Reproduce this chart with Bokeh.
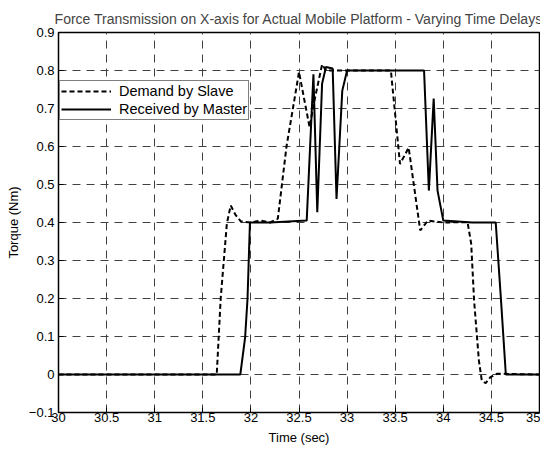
from bokeh.plotting import figure
from bokeh.models import Range1d, FixedTicker, Legend, LegendItem
from bokeh.embed import file_html
from bokeh.resources import INLINE

# ---- data ----
slave_t = [30.0, 31.645, 31.686, 31.75, 31.79, 31.84, 31.895, 32.0, 32.1, 32.2, 32.28,
           32.37, 32.45, 32.5, 32.55, 32.61, 32.66, 32.74, 32.78, 33.0, 33.2, 33.455,
           33.55, 33.64, 33.76, 33.84, 34.0, 34.252, 34.29, 34.32, 34.37, 34.40, 34.44,
           34.49, 34.56, 35.0]
slave_v = [0.0, 0.0, 0.2, 0.397, 0.445, 0.42, 0.403, 0.40, 0.405, 0.40, 0.41,
           0.6, 0.72, 0.796, 0.73, 0.651, 0.72, 0.816, 0.80, 0.80, 0.80, 0.80,
           0.554, 0.597, 0.379, 0.405, 0.40, 0.401, 0.344, 0.195, 0.037, -0.016, -0.023,
           -0.007, 0.002, 0.0]

master_t = [30.0, 31.89, 31.94, 31.965, 31.99, 32.2, 32.58, 32.65, 32.69, 32.74, 32.78,
            32.85, 32.89, 32.95, 33.0, 33.5, 33.80, 33.85, 33.90, 33.94, 34.0, 34.3,
            34.545, 34.60, 34.65, 35.0]
master_v = [0.0, 0.0, 0.098, 0.2, 0.4, 0.4, 0.405, 0.79, 0.427, 0.765, 0.809,
            0.805, 0.462, 0.747, 0.80, 0.80, 0.80, 0.484, 0.726, 0.484, 0.405, 0.40,
            0.40, 0.195, 0.0, 0.0]

x_ticks = [30, 30.5, 31, 31.5, 32, 32.5, 33, 33.5, 34, 34.5, 35]
y_ticks = [-0.1, 0, 0.1, 0.2, 0.3, 0.4, 0.5, 0.6, 0.7, 0.8, 0.9]

title_text = "Force Transmission on X-axis for Actual Mobile Platform - Varying Time Delays"
x_label = "Time (sec)"
y_label = "Torque (Nm)"
legend_labels = ["Demand by Slave", "Received by Master"]

FONT = "Liberation Sans"

p = figure(width=540, height=447, output_backend="svg", toolbar_location=None,
           x_range=Range1d(30, 35), y_range=Range1d(-0.1, 0.9),
           min_border_left=58, min_border_right=1, min_border_top=32, min_border_bottom=35)

p.title.text = title_text
p.title.align = "center"
p.title.text_font = FONT
p.title.text_font_style = "normal"
p.title.text_font_size = "14px"
p.title.offset = -4
p.title.standoff = 11

p.background_fill_color = "white"
p.border_fill_color = "white"
p.outline_line_color = "black"
p.outline_line_width = 1.5
p.outline_line_alpha = 1.0

for ax in p.xaxis:
    ax.ticker = FixedTicker(ticks=x_ticks)
    ax.axis_label = x_label
for ax in p.yaxis:
    ax.ticker = FixedTicker(ticks=y_ticks)
    ax.axis_label = y_label

for ax in list(p.xaxis) + list(p.yaxis):
    ax.axis_line_color = None
    ax.major_tick_in = 5
    ax.major_tick_out = 0
    ax.major_tick_line_color = "black"
    ax.minor_tick_line_color = None
    ax.major_label_text_font = FONT
    ax.major_label_text_font_size = "13px"
    ax.major_label_text_color = "black"
    ax.axis_label_text_font = FONT
    ax.axis_label_text_font_size = "13px"
    ax.axis_label_text_font_style = "normal"
    ax.axis_label_text_color = "black"

p.yaxis.major_label_standoff = 4
p.yaxis.axis_label_standoff = 5
p.xaxis.major_label_standoff = 0
p.xaxis.axis_label_standoff = 5

p.xgrid.ticker = FixedTicker(ticks=x_ticks)
p.ygrid.ticker = FixedTicker(ticks=y_ticks)
for g in (p.xgrid, p.ygrid):
    g.grid_line_color = "#404040"
    g.grid_line_width = 1
    g.grid_line_dash = "8 6"

r1 = p.line(slave_t, slave_v, line_color="black", line_width=2, line_dash="5 3")
r2 = p.line(master_t, master_v, line_color="black", line_width=2)

legend = Legend(items=[LegendItem(label=legend_labels[0], renderers=[r1]),
                       LegendItem(label=legend_labels[1], renderers=[r2])],
                location=(1, 292))
legend.label_text_font = FONT
legend.label_text_font_size = "14.5px"
legend.label_text_color = "black"
legend.border_line_color = "black"
legend.border_line_width = 1.5
legend.background_fill_color = "white"
legend.background_fill_alpha = 1.0
legend.glyph_width = 50
legend.glyph_height = 18
legend.label_height = 18
legend.label_standoff = 8
legend.spacing = 0
legend.padding = 1
legend.margin = 0
p.add_layout(legend, "center")

open("out.html", "w").write(file_html(p, INLINE))
